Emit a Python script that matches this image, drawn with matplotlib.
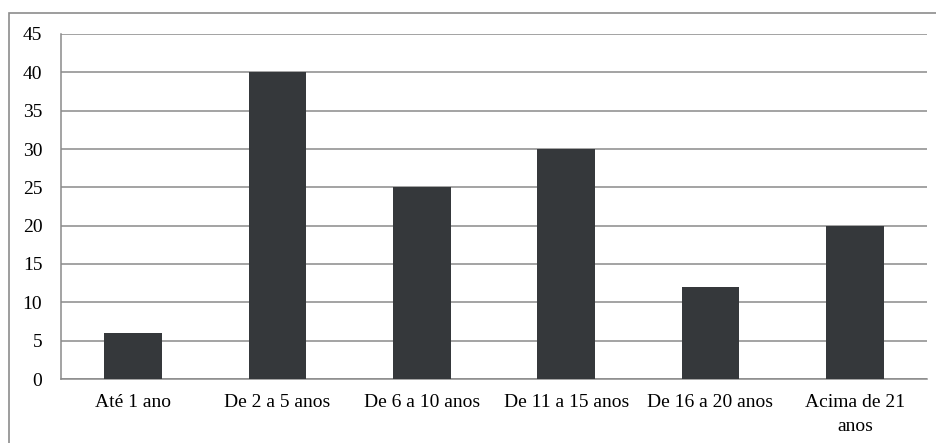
import matplotlib.pyplot as plt
from matplotlib.patches import Rectangle

categories = ['Até 1 ano', 'De 2 a 5 anos', 'De 6 a 10 anos', 'De 11 a 15 anos',
              'De 16 a 20 anos', 'Acima de 21\nanos']
values = [6, 40, 25, 30, 12, 20]
yticks = [0, 5, 10, 15, 20, 25, 30, 35, 40, 45]

plt.rcParams['font.family'] = ['Liberation Serif', 'DejaVu Serif']

fig = plt.figure(figsize=(9.36, 4.43), dpi=100)
fig.patch.set_facecolor('white')

# outer chart border (runs off the right and bottom edges)
fig.add_artist(Rectangle((9 / 936, -0.05), 1.0, 1 - 13 / 443 + 0.05,
                         transform=fig.transFigure, fill=False,
                         edgecolor='#8c8c8c', linewidth=1.2))

ax = fig.add_axes([61 / 936, 1 - 379 / 443, (927 - 61) / 936, (379 - 34) / 443])
x = range(len(categories))
ax.bar(x, values, width=0.4, color='#35383b', zorder=3)

ax.set_ylim(0, 45)
ax.set_xlim(-0.5, len(categories) - 0.5)
ax.set_yticks(yticks)
ax.set_xticks(list(x))
ax.set_xticklabels(categories, fontsize=14, linespacing=1.6)
ax.tick_params(axis='y', labelsize=14, length=0, pad=13.5)
ax.tick_params(axis='x', length=0, pad=10.5)

ax.yaxis.grid(True, color='#8a8a8a', linewidth=1.1, zorder=0)
for side in ['top', 'right']:
    ax.spines[side].set_visible(False)
ax.spines['left'].set_color('#8a8a8a')
ax.spines['bottom'].set_color('#8a8a8a')
ax.spines['left'].set_linewidth(1.1)
ax.spines['bottom'].set_linewidth(1.1)

fig.savefig('out.png', dpi=100)
